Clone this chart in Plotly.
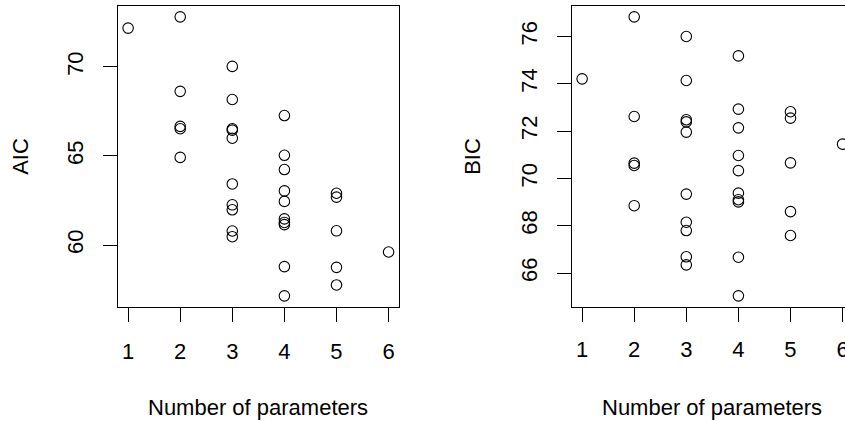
import plotly.graph_objects as go

# ---- data ----
n_params = [1,
            2, 2, 2, 2, 2,
            3, 3, 3, 3, 3, 3, 3, 3, 3, 3,
            4, 4, 4, 4, 4, 4, 4, 4, 4, 4,
            5, 5, 5, 5, 5,
            6]
aic = [72.18,
       72.81, 68.63, 66.66, 66.53, 64.92,
       70.03, 68.17, 66.53, 66.45, 66.00, 63.43, 62.26, 61.98, 60.79, 60.47,
       67.27, 65.04, 64.24, 63.04, 62.45, 61.47, 61.27, 61.15, 58.79, 57.15,
       62.91, 62.69, 60.80, 58.75, 57.76,
       59.61]
bic = [74.21,
       76.83, 72.62, 70.65, 70.55, 68.85,
       76.00, 74.14, 72.48, 72.39, 71.96, 69.34, 68.15, 67.80, 66.69, 66.35,
       75.18, 72.93, 72.14, 70.97, 70.33, 69.38, 69.10, 69.01, 66.67, 65.04,
       72.82, 72.55, 70.66, 68.60, 67.59,
       71.45]
x_ticks = [1, 2, 3, 4, 5, 6]
x_tick_labels = ["1", "2", "3", "4", "5", "6"]
aic_ticks = [60, 65, 70]
bic_ticks = [66, 68, 70, 72, 74, 76]
x_title = "Number of parameters"

W, H = 845, 421
FONT = "Liberation Sans, Arial, Helvetica, sans-serif"
FS = 22


def rrange(v):
    lo, hi = min(v), max(v)
    d = (hi - lo) * 0.04
    return [lo - d, hi + d]


xr = rrange(x_ticks)  # [0.8, 6.2]

# pixel geometry of plot regions
L1, R1 = 117.7, 399.0
L2 = 571.7
TOP, BOT = 5.7, 307.0
LABEL_Y = 351.0  # centre of x tick labels (px from top)
unit = (R1 - L1) / (xr[1] - xr[0])
x2_max = xr[0] + (W - L2) / unit
x2_range = [xr[0], x2_max]

fig = go.Figure()
marker = dict(symbol="circle-open", size=10.5, color="black", line=dict(width=1.1, color="black"))
fig.add_trace(go.Scatter(x=n_params, y=aic, mode="markers", marker=marker,
                         xaxis="x", yaxis="y", showlegend=False))
fig.add_trace(go.Scatter(x=n_params, y=bic, mode="markers", marker=marker,
                         xaxis="x2", yaxis="y2", showlegend=False))
# tick labels of the right panel's x axis, clipped at the window edge like the reference
fig.add_trace(go.Scatter(x=x_ticks, y=[0.5] * len(x_ticks), text=x_tick_labels, mode="text",
                         textposition="middle center", cliponaxis=True,
                         textfont=dict(family=FONT, size=FS, color="black"),
                         xaxis="x3", yaxis="y3", showlegend=False, hoverinfo="skip"))

ydom = [1 - BOT / H, 1 - TOP / H]
lab_h = 2 * (H - LABEL_Y)
common = dict(showgrid=False, zeroline=False, showline=True, linecolor="black", linewidth=1,
              ticks="outside", ticklen=14, tickwidth=1, tickcolor="black",
              tickfont=dict(family=FONT, size=FS, color="black"))

fig.update_layout(
    width=W, height=H, autosize=False,
    margin=dict(l=0, r=0, t=0, b=0, pad=0),
    paper_bgcolor="white", plot_bgcolor="rgba(0,0,0,0)",
    font=dict(family=FONT, size=FS, color="black"),
    xaxis=dict(domain=[L1 / W, R1 / W], range=xr, tickvals=x_ticks, mirror=True,
               ticklabelstandoff=11, anchor="y", **common),
    yaxis=dict(domain=ydom, range=rrange(aic), tickvals=aic_ticks, mirror=True,
               tickangle=-90, ticklabelstandoff=11, anchor="x", **common),
    xaxis2=dict(domain=[L2 / W, 1.0], range=x2_range, tickvals=x_ticks, mirror=True,
                showticklabels=False, anchor="y2", **common),
    yaxis2=dict(domain=ydom, range=rrange(bic), tickvals=bic_ticks, mirror=False,
                tickangle=-90, ticklabelstandoff=11, anchor="x2", **common),
    xaxis3=dict(domain=[L2 / W, 1.0], range=x2_range, visible=False, anchor="y3"),
    yaxis3=dict(domain=[0, lab_h / H], range=[0, 1], visible=False, anchor="x3"),
)

title_y = 1 - 407 / H
fig.add_annotation(text=x_title, xref="paper", yref="paper", x=(L1 + R1) / 2 / W, y=title_y,
                   showarrow=False, xanchor="center", yanchor="middle",
                   font=dict(family=FONT, size=FS, color="black"))
fig.add_annotation(text=x_title, xref="paper", yref="paper", x=(L2 + L2 + (R1 - L1)) / 2 / W, y=title_y,
                   showarrow=False, xanchor="center", yanchor="middle",
                   font=dict(family=FONT, size=FS, color="black"))
ymid = (ydom[0] + ydom[1]) / 2
fig.add_annotation(text="AIC", xref="paper", yref="paper", x=20.5 / W, y=ymid, textangle=-90,
                   showarrow=False, xanchor="center", yanchor="middle",
                   font=dict(family=FONT, size=FS, color="black"))
fig.add_annotation(text="BIC", xref="paper", yref="paper", x=472.5 / W, y=ymid, textangle=-90,
                   showarrow=False, xanchor="center", yanchor="middle",
                   font=dict(family=FONT, size=FS, color="black"))

page_js = (
    "document.documentElement.style.overflow='hidden';"
    "document.body.style.margin='0';document.body.style.overflow='hidden';"
)
fig.write_html("out.html", config={"displayModeBar": False, "staticPlot": True},
               post_script=page_js)
